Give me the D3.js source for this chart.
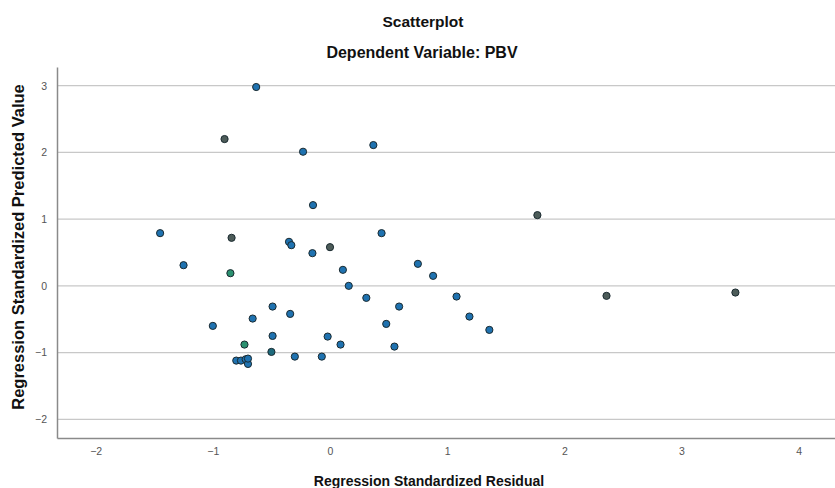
<!DOCTYPE html>
<html><head><meta charset="utf-8">
<script src="https://cdn.jsdelivr.net/npm/d3@7/dist/d3.min.js"></script>
<style>body{margin:0;background:#fff;}svg{display:block;}</style>
</head><body>
<svg id="chart" width="835" height="488"></svg>
<script>
const title = "Scatterplot";
const subtitle = "Dependent Variable: PBV";
const xLabel = "Regression Standardized Residual";
const yLabel = "Regression Standardized Predicted Value";
const xTicks = [-2, -1, 0, 1, 2, 3, 4];
const yTicks = [-2, -1, 0, 1, 2, 3];
// residuals (x), predicted (y), colour group
const residuals = [-0.63, -0.90, -0.23, 0.37, -0.145, 1.77, -1.45, -0.84, -0.35, -0.33, 0.0, -0.15, 0.44, -1.25, -0.85, 0.11, 0.75, 0.88, 0.16, 0.31, 1.08, 2.36, 3.46, -0.49, 0.59, -0.34, -0.66, -1.0, 0.48, 1.19, 1.36, -0.49, -0.02, 0.09, -0.73, 0.55, -0.50, -0.30, -0.07, -0.80, -0.76, -0.72, -0.70, -0.70];
const predicted = [2.98, 2.20, 2.01, 2.11, 1.21, 1.06, 0.79, 0.72, 0.66, 0.61, 0.58, 0.49, 0.79, 0.31, 0.19, 0.24, 0.33, 0.15, 0.0, -0.18, -0.16, -0.15, -0.10, -0.31, -0.31, -0.42, -0.49, -0.60, -0.57, -0.46, -0.66, -0.75, -0.76, -0.88, -0.88, -0.91, -0.99, -1.06, -1.06, -1.12, -1.12, -1.10, -1.17, -1.09];
const groups = ["b","g","b","b","b","g","b","g","b","b","g","b","b","b","t","b","b","b","b","b","b","g","g","b","b","b","b","b","b","b","b","b","b","b","t","b","d","b","b","b","b","b","b","b"];
const groupColors = {b:"#1f72b0", g:"#4d5c59", t:"#2b9170", d:"#1d6a7c"};

const svg = d3.select("#chart");
const mLeft = 57, mRight = 835, mTop = 67, mBottom = 438;
const x = d3.scaleLinear().domain([-2.33, 4.31]).range([mLeft, mRight]);
const y = d3.scaleLinear().domain([-2.28, 3.28]).range([mBottom, mTop]);

// gridlines
svg.append("g").selectAll("line").data(yTicks).join("line")
  .attr("x1", mLeft).attr("x2", mRight)
  .attr("y1", d => y(d)).attr("y2", d => y(d))
  .attr("stroke", "#c8c8c8").attr("stroke-width", 1.2);

// axes
const yAxis = svg.append("g").attr("transform", `translate(${mLeft},0)`)
  .call(d3.axisLeft(y).tickValues(yTicks).tickSize(0).tickPadding(10).tickFormat(d3.format("d")));
const xAxis = svg.append("g").attr("transform", `translate(0,${mBottom})`)
  .call(d3.axisBottom(x).tickValues(xTicks).tickSize(0).tickPadding(10).tickFormat(d3.format("d")));
[xAxis, yAxis].forEach(a => {
  a.select(".domain").attr("stroke", "#8a8a8a").attr("stroke-width", 1.5);
  a.selectAll("text").attr("fill", "#555").attr("font-family", "Liberation Sans, Arial, sans-serif").attr("font-size", 10.5);
});

// points
const pts = residuals.map((r, i) => ({r, p: predicted[i], g: groups[i]}));
svg.append("g").selectAll("circle").data(pts).join("circle")
  .attr("cx", d => x(d.r)).attr("cy", d => y(d.p)).attr("r", 3.6)
  .attr("fill", d => groupColors[d.g]).attr("stroke", "#1a2a30").attr("stroke-width", 1);

// titles
const ff = "Liberation Sans, Arial, sans-serif";
svg.append("text").attr("x", 423).attr("y", 27).attr("text-anchor", "middle")
  .attr("font-family", ff).attr("font-size", 15.5).attr("font-weight", "bold").attr("fill", "#111").text(title);
svg.append("text").attr("x", 422).attr("y", 58).attr("text-anchor", "middle")
  .attr("font-family", ff).attr("font-size", 16).attr("font-weight", "bold").attr("fill", "#111").text(subtitle);
svg.append("text").attr("x", 429).attr("y", 486).attr("text-anchor", "middle")
  .attr("font-family", ff).attr("font-size", 14).attr("font-weight", "bold").attr("fill", "#111").text(xLabel);
svg.append("text").attr("transform", "translate(24,247) rotate(-90)").attr("text-anchor", "middle")
  .attr("font-family", ff).attr("font-size", 16.5).attr("font-weight", "bold").attr("fill", "#111").text(yLabel);
</script>
</body></html>
